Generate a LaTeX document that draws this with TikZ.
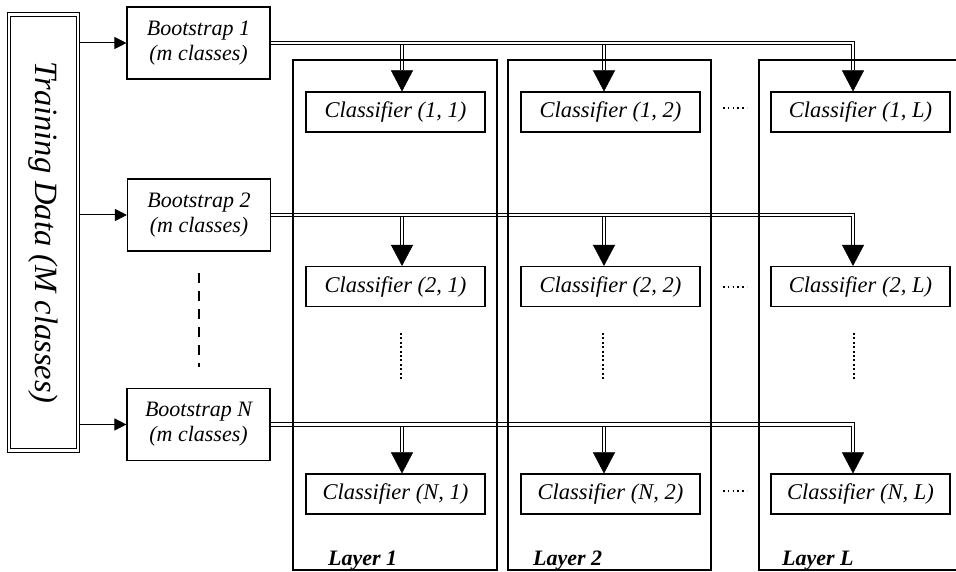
\documentclass[tikz,border=0pt]{standalone}
\usepackage{fontspec}
\setmainfont{Liberation Serif}
\usetikzlibrary{arrows.meta,calc}
\begin{document}
\begin{tikzpicture}[x=1pt,y=-1pt,
  box/.style={draw, line width=1.1pt, inner sep=0pt, align=center},
  bootbox/.style={box, minimum width=143pt, minimum height=72pt, font=\fontsize{22}{25}\selectfont\itshape},
  clsbox/.style={box, minimum width=179pt, minimum height=40pt, font=\fontsize{22.5}{26}\selectfont\itshape},
  tdbox/.style={draw, line width=1.1pt, double=white, double distance=2.2pt, minimum width=69pt, minimum height=436pt, inner sep=0pt},
  layerline/.style={draw, line width=1.6pt},
  bus/.style={draw, line width=1pt, double=white, double distance=2.2pt},
  feed/.style={line width=1pt, -{Triangle[length=12pt,width=12pt]}},
  drop/.style={line width=0.5pt, -{Triangle[length=21pt,width=22pt]}},
  layerlabel/.style={anchor=base west, inner sep=0pt, font=\fontsize{22}{26}\selectfont\bfseries\itshape},
  dotsrow/.style={line width=1.6pt, dash pattern=on 1.6pt off 3.2pt},
  vdots/.style={line width=2pt, dash pattern=on 2pt off 2.4pt},
  vdash/.style={line width=2pt, dash pattern=on 10pt off 8pt},
]
\useasboundingbox (0,0) rectangle (956,572);

% training data
\node[tdbox] (td) at (43.7,232.5) {};
\node[rotate=-90, inner sep=0pt, font=\fontsize{32.5}{36}\selectfont\itshape] (tdtext) at (td.center) {Training Data (M classes)};

% bootstraps
\node[bootbox] (b1) at (198.5,43) {Bootstrap 1\\(m classes)};
\node[bootbox] (b2) at (199,215) {Bootstrap 2\\(m classes)};
\node[bootbox] (bN) at (198.5,424.5) {Bootstrap N\\(m classes)};

\draw[feed] (td.east |- b1.west) -- (b1.west);
\draw[feed] (td.east |- b2.west) -- (b2.west);
\draw[feed] (td.east |- bN.west) -- (bN.west);

\coordinate (dtop) at (199,273);
\coordinate (dbot) at (199,367);
\draw[vdash] (dtop) -- (dbot);

% classifiers
\foreach \r/\y in {1/112, 2/286.5, N/494}{
  \node[clsbox] (c\r1) at (395.5,\y) {Classifier (\r, 1)};
  \node[clsbox] (c\r2) at (610.5,\y) {Classifier (\r, 2)};
  \node[clsbox] (c\r L) at (860.5,\y) {Classifier (\r, L)};
}

% arrow columns
\coordinate (a1) at (402,0);
\coordinate (a2) at (604,0);
\coordinate (aL) at (853,0);

% heads top coordinates
\foreach \r in {1,2,N}{
  \coordinate (h\r1) at ($(c\r1.north -| a1)+(0,-21)$);
  \coordinate (h\r2) at ($(c\r2.north -| a2)+(0,-21)$);
  \coordinate (h\r L) at ($(c\r L.north -| aL)+(0,-21)$);
}

% buses
\foreach \r/\b in {1/b1, 2/b2, N/bN}{
  \draw[bus] (\b.east -| a1) -- (h\r1);
  \draw[bus] (\b.east -| a2) -- (h\r2);
  \draw[bus] (\b.east) -| (h\r L);
}

% layer boxes
\draw[layerline] (293,60) rectangle (497,570);
\draw[layerline] (508,60) rectangle (711,570);
\draw[layerline] (956,60) -- (759,60) -- (759,570) -- (956,570);

% arrow heads
\foreach \r in {1,2,N}{
  \draw[drop] (h\r1) -- (c\r1.north -| a1);
  \draw[drop] (h\r2) -- (c\r2.north -| a2);
  \draw[drop] (h\r L) -- (c\r L.north -| aL);
}

% horizontal dots between layers
\draw[dotsrow] (723,108) -- (747,108);
\draw[dotsrow] (723,287) -- (747,287);
\draw[dotsrow] (723,491) -- (747,491);

% vertical dots
\draw[vdots] (401,333) -- (401,380);
\draw[vdots] (603,333) -- (603,380);
\draw[vdots] (854,333) -- (854,380);

% layer labels
\node[layerlabel] (l1) at (328,565) {Layer 1};
\node[layerlabel] (l2) at (533,565) {Layer 2};
\node[layerlabel] (lL) at (782,565) {Layer L};
\end{tikzpicture}
\end{document}
